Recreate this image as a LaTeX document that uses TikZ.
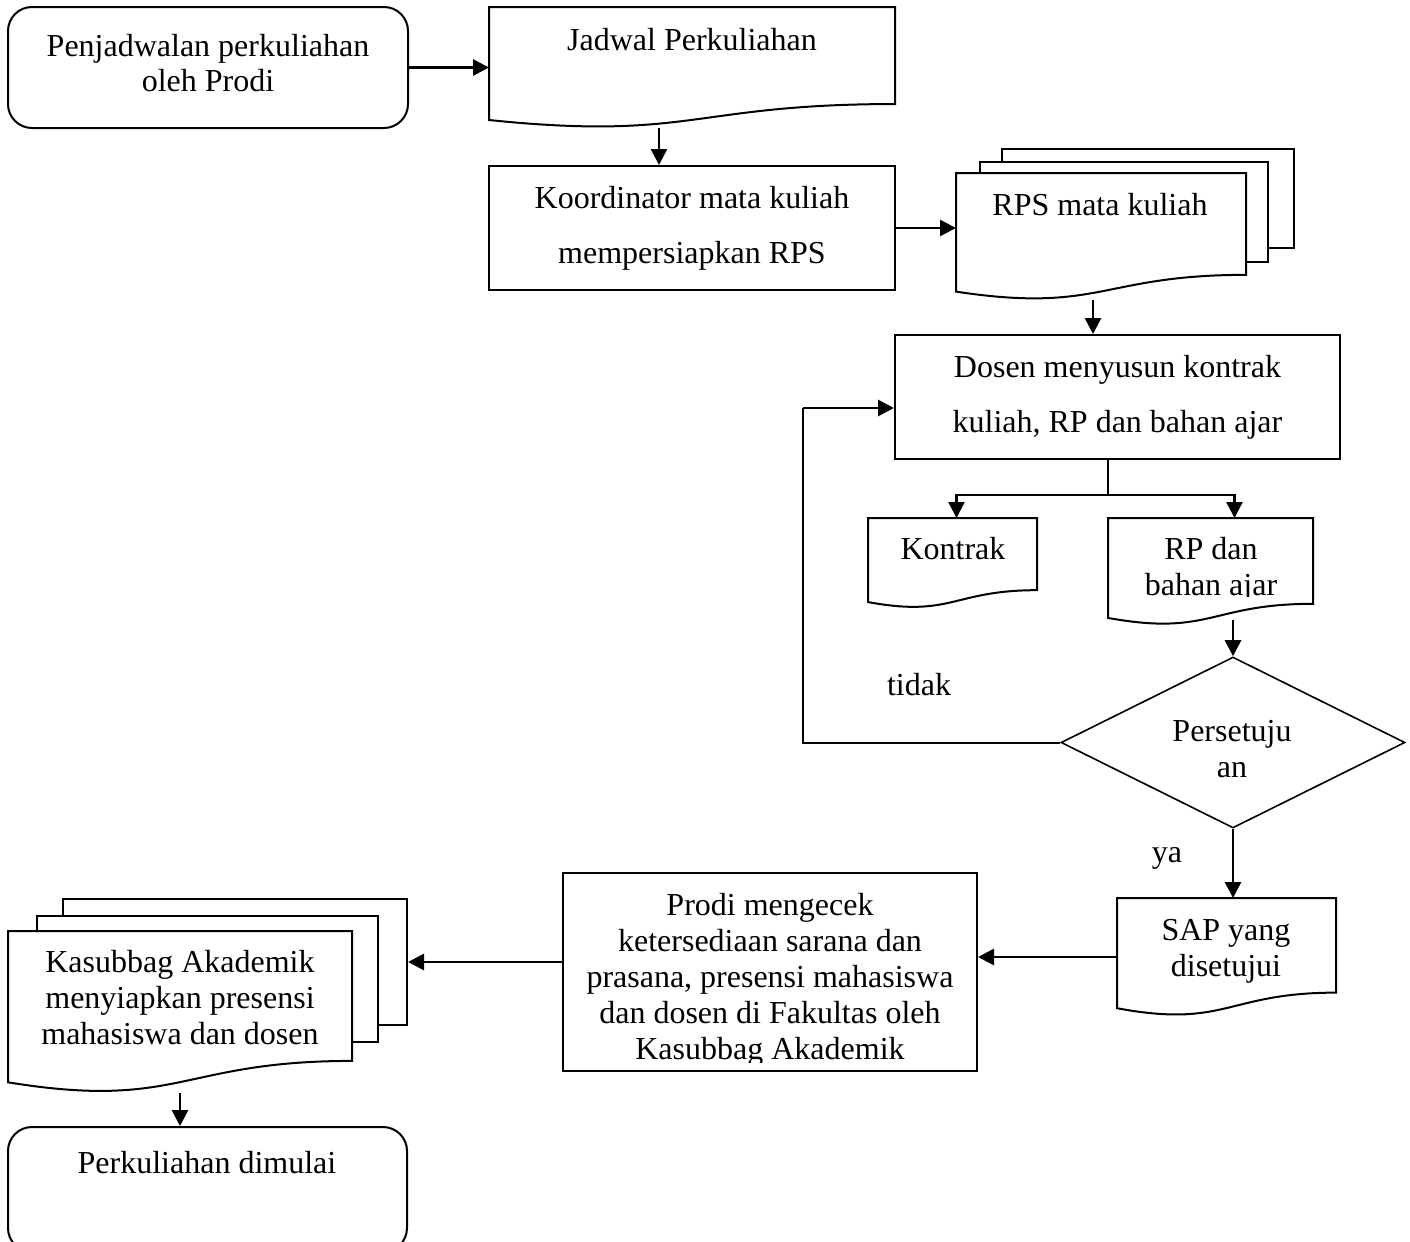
\documentclass[tikz,border=0pt]{standalone}
\usepackage{fontspec}
\setmainfont{Liberation Serif}
\usetikzlibrary{arrows.meta,positioning,shapes.geometric,calc}

% wave-bottomed document outline over an empty node
\newcommand{\docoutline}[1]{%
  \draw[box,fill=white] (#1.north west) -- ($(#1.north west)!0.934!(#1.south west)$)
    .. controls ($(#1.north)!1.107!(#1.south)$) and ($(#1.north)!0.802!(#1.south)$)
    .. ($(#1.north east)!0.802!(#1.south east)$) -- (#1.north east) -- cycle;}

\begin{document}
\begin{tikzpicture}[x=0.5pt,y=-0.5pt,
    box/.style={draw,line width=1pt},
    proc/.style={box,rectangle,inner sep=0pt,align=center,font=\fontsize{16}{27.5}\selectfont},
    term/.style={box,rectangle,rounded corners=12pt,inner sep=0pt},
    docnode/.style={rectangle,inner sep=0pt,outer sep=0pt},
    page/.style={box,fill=white,rectangle,inner sep=0pt},
    txt/.style={align=center,font=\fontsize{16}{18}\selectfont,inner sep=0pt},
    arr/.style={-{Triangle[length=8pt,width=8pt]},line width=1.4pt},
    thin/.style={line width=0.8pt}]
    \useasboundingbox (0,0) rectangle (1410,1242);

    % Top row
    \node[term,minimum width=200pt,minimum height=60.5pt] (start) at (208,67.5) {};
    \node[txt,font=\fontsize{16}{17.5}\selectfont] (start-t) at (208,63) {Penjadwalan perkuliahan\\oleh Prodi};
    \node[docnode,minimum width=203pt,minimum height=60.5pt] (jadwal) at (692,67.5) {};
    \docoutline{jadwal}
    \node[txt] (jadwal-t) at (692,40) {Jadwal Perkuliahan};

    \node[proc,minimum width=203pt,minimum height=62pt] (koord) at (692,228) {Koordinator mata kuliah\\mempersiapkan RPS};

    % RPS stack
    \node[page,minimum width=146pt,minimum height=49.5pt] (rps-b2) at (1148,198.5) {};
    \node[page,minimum width=144pt,minimum height=50pt] (rps-b1) at (1124,212) {};
    \node[docnode,minimum width=145pt,minimum height=63.5pt] (rps) at (1101,236.5) {};
    \docoutline{rps}
    \node[txt] (rps-t) at (1100,205) {RPS mata kuliah};

    \node[proc,minimum width=222.5pt,minimum height=62pt] (dosen) at (1117.5,397) {Dosen menyusun kontrak\\kuliah, RP dan bahan ajar};

    % Outputs of the lecturer
    \node[docnode,minimum width=84.5pt,minimum height=45pt] (kontrak) at (952.5,563) {};
    \docoutline{kontrak}
    \node[txt] (kontrak-t) at (953,549) {Kontrak};
    \node[docnode,minimum width=102.5pt,minimum height=53.5pt] (rp) at (1210.5,571.5) {};
    \docoutline{rp}
    \begin{scope}
        \clip (1108,518) rectangle (1313,596);
        \node[txt] (rp-t) at (1211,570) {RP dan\\bahan ajar};
    \end{scope}

    % Decision
    \node[box,thin,diamond,minimum width=172pt,minimum height=85.5pt,inner sep=0pt] (dec) at (1233,742.5) {};
    \node[txt] (dec-t) at (1232,749) {Persetuju\\an};
    \node[txt] (tidak) at (919,685) {tidak};
    \node[txt] (ya) at (1167,858) {ya};

    \node[docnode,minimum width=109.5pt,minimum height=59pt] (sap) at (1226.5,957) {};
    \docoutline{sap}
    \node[txt] (sap-t) at (1226,951.5) {SAP yang\\disetujui};

    % Bottom row
    \node[box,rectangle,minimum width=207pt,minimum height=99pt] (prodi) at (770,972) {};
    \begin{scope}
        \clip (563,873) rectangle (977,1062);
        \node[txt] (prodi-t) at (770,979.5) {Prodi mengecek\\ketersediaan sarana dan\\prasana, presensi mahasiswa\\dan dosen di Fakultas oleh\\Kasubbag Akademik};
    \end{scope}

    \node[page,minimum width=172pt,minimum height=63pt] (kas-b2) at (235,962) {};
    \node[page,minimum width=170.5pt,minimum height=63pt] (kas-b1) at (207.5,979) {};
    \node[docnode,minimum width=172pt,minimum height=81pt] (kas) at (180,1012) {};
    \docoutline{kas}
    \node[txt] (kas-t) at (180,998) {Kasubbag Akademik\\menyiapkan presensi\\mahasiswa dan dosen};

    \node[term,minimum width=199.5pt,minimum height=62.5pt] (mulai) at (207.5,1189.5) {};
    \node[txt] (mulai-t) at (207,1163) {Perkuliahan dimulai};

    % Connectors
    \draw[arr] (start.east) -- (start.east -| jadwal.west);
    \draw[arr] ([xshift=-16.5pt]jadwal.south) -- ([xshift=-16.5pt]koord.north);
    \draw[arr] (koord.east) -- (koord.east -| rps.west);
    \draw[arr] ($(rps.south)+(-8,0)$) -- ($(rps.south |- dosen.north)+(-8,0)$);
    \coordinate (split) at (1108,495);
    \draw[thin] (split |- dosen.south) -- (split);
    \draw[arr,line width=1.2pt] (split) -| ($(kontrak.north)+(4,0)$);
    \draw[arr,line width=1.2pt] (split) -| ($(rp.north)+(24,0)$);
    \draw[arr] ($(rp.south -| dec.north)+(0,-5)$) -- (dec.north);
    \coordinate (back) at (803,408);
    \draw[box] (dec.west) -| (back);
    \draw[arr] (back) -- (back -| dosen.west);
    \draw[arr] (dec.south) -- (dec.south |- sap.north);
    \draw[arr] (sap.west) -- (sap.west -| prodi.east);
    \draw[arr] (prodi.west |- kas-b2.east) -- (kas-b2.east);
    \draw[arr] (kas.south) -- (kas.south |- mulai.north);
\end{tikzpicture}
\end{document}
